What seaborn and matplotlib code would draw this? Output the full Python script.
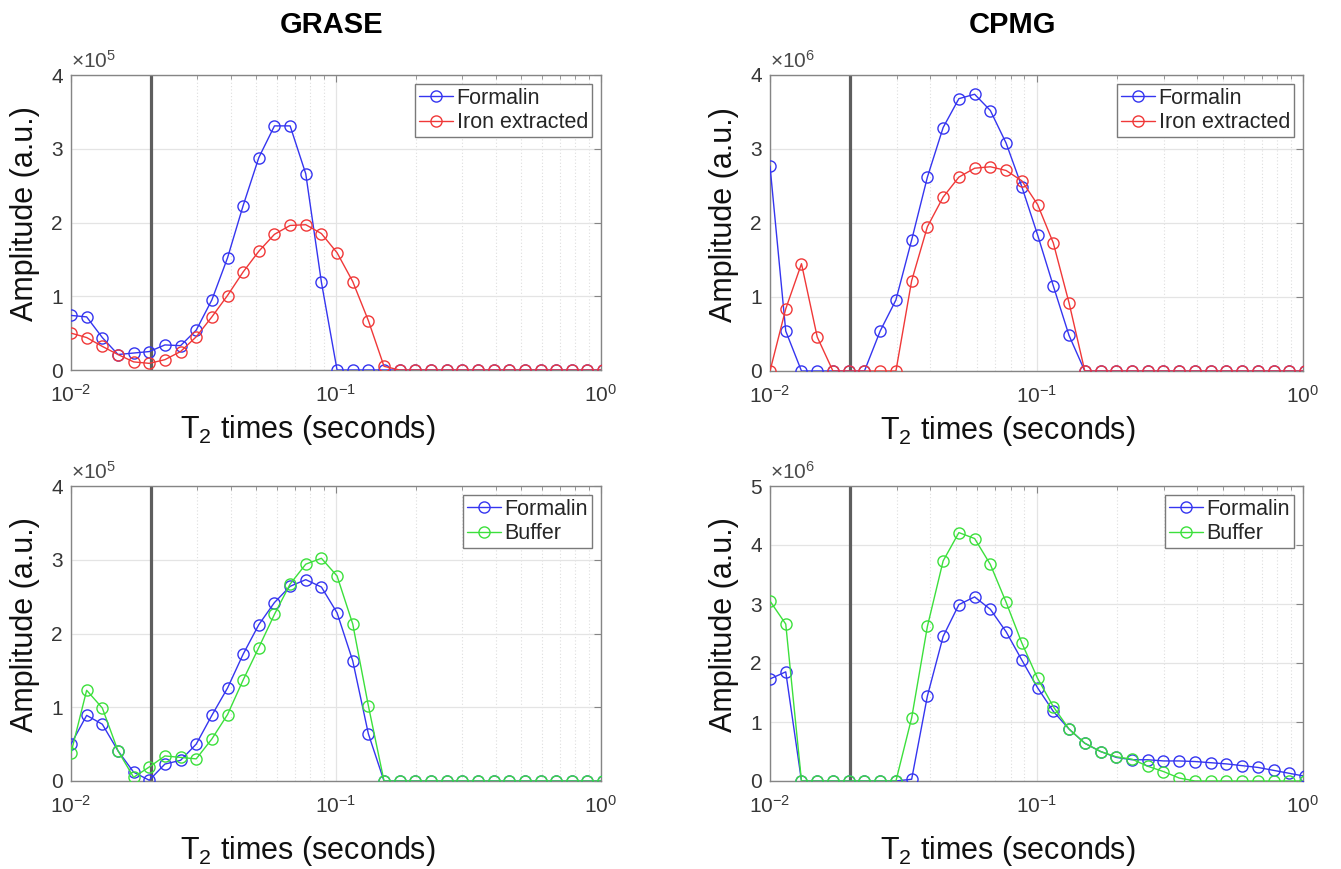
import numpy as np
import pandas as pd
import matplotlib
matplotlib.use("Agg")
import matplotlib.pyplot as plt
import seaborn as sns
from matplotlib.ticker import LogLocator, NullFormatter, FixedLocator, FormatStrFormatter

# ---------------- data ----------------
# T2 grid (seconds), log-spaced
t2_times = [0.010000, 0.011457, 0.013126, 0.015038, 0.017228, 0.019738, 0.022613,
            0.025907, 0.029681, 0.034005, 0.038958, 0.044633, 0.051135, 0.058584,
            0.067118, 0.076895, 0.088096, 0.100929, 0.115631, 0.132475, 0.151772,
            0.173881, 0.199210, 0.228229, 0.261475, 0.299564, 0.343201, 0.393195,
            0.450471, 0.516090, 0.591268, 0.677398, 0.776074, 0.889124, 1.018643]

# GRASE, top (x1e5)
grase_top_formalin = [0.74, 0.72, 0.44, 0.21, 0.23, 0.25, 0.34, 0.33, 0.54, 0.95,
                      1.52, 2.23, 2.88, 3.31, 3.31, 2.66, 1.19, 0, 0, 0,
                      0, 0, 0, 0, 0, 0, 0, 0, 0, 0, 0, 0, 0, 0, 0]
grase_top_iron = [0.50, 0.44, 0.32, 0.21, 0.11, 0.09, 0.14, 0.25, 0.45, 0.72,
                  1.01, 1.33, 1.61, 1.84, 1.96, 1.97, 1.85, 1.59, 1.20, 0.67,
                  0.05, 0, 0, 0, 0, 0, 0, 0, 0, 0, 0, 0, 0, 0, 0]

# CPMG, top (x1e6)
cpmg_top_formalin = [2.77, 0.54, 0, 0, 0, 0, 0, 0.54, 0.96, 1.77,
                     2.62, 3.29, 3.68, 3.74, 3.52, 3.08, 2.49, 1.84, 1.15, 0.48,
                     0, 0, 0, 0, 0, 0, 0, 0, 0, 0, 0, 0, 0, 0, 0]
cpmg_top_iron = [0, 0.84, 1.45, 0.46, 0, 0, 0, 0, 0, 1.22,
                 1.95, 2.35, 2.62, 2.74, 2.76, 2.71, 2.57, 2.25, 1.73, 0.92,
                 0, 0, 0, 0, 0, 0, 0, 0, 0, 0, 0, 0, 0, 0, 0]

# GRASE, bottom (x1e5)
grase_bot_formalin = [0.50, 0.89, 0.77, 0.41, 0.12, 0.01, 0.23, 0.28, 0.50, 0.89,
                      1.26, 1.72, 2.12, 2.42, 2.64, 2.73, 2.63, 2.28, 1.63, 0.64,
                      0, 0, 0, 0, 0, 0, 0, 0, 0, 0, 0, 0, 0, 0, 0]
grase_bot_buffer = [0.38, 1.23, 0.99, 0.41, 0.05, 0.19, 0.34, 0.32, 0.30, 0.57,
                    0.90, 1.37, 1.81, 2.26, 2.67, 2.94, 3.02, 2.78, 2.13, 1.02,
                    0, 0, 0, 0, 0, 0, 0, 0, 0, 0, 0, 0, 0, 0, 0]

# CPMG, bottom (x1e6)
cpmg_bot_formalin = [1.73, 1.85, 0, 0, 0, 0, 0, 0, 0, 0.03,
                     1.44, 2.45, 2.99, 3.12, 2.91, 2.53, 2.05, 1.58, 1.18, 0.88,
                     0.64, 0.50, 0.40, 0.36, 0.36, 0.34, 0.34, 0.33, 0.31, 0.29,
                     0.26, 0.23, 0.18, 0.13, 0.08]
cpmg_bot_buffer = [3.05, 2.66, 0, 0, 0, 0, 0, 0, 0, 1.07,
                   2.62, 3.73, 4.21, 4.11, 3.67, 3.03, 2.34, 1.74, 1.26, 0.88,
                   0.64, 0.50, 0.41, 0.37, 0.25, 0.16, 0.05, 0, 0, 0,
                   0, 0, 0, 0, 0]

col_titles = ["GRASE", "CPMG"]
xlabel_text = "T$_2$ times (seconds)"
ylabel_text = "Amplitude (a.u.)"

BLUE = "#3535f0"
RED = "#f03838"
GREEN = "#3ce03c"

# ---------------- style ----------------
sns.set_theme(style="white")
plt.rcParams["font.family"] = ["Liberation Sans", "DejaVu Sans"]
plt.rcParams["mathtext.fontset"] = "custom"
plt.rcParams["mathtext.rm"] = "Liberation Sans"
plt.rcParams["mathtext.it"] = "Liberation Sans:italic"
plt.rcParams["mathtext.bf"] = "Liberation Sans:bold"
plt.rcParams["mathtext.default"] = "regular"

fig = plt.figure(figsize=(13.41, 8.69), dpi=100)

W, H = 1341.0, 869.0
def add_axes(left_px, top_px, right_px, bottom_px):
    return fig.add_axes([left_px / W, 1 - bottom_px / H,
                         (right_px - left_px) / W, (bottom_px - top_px) / H])

ax_tl = add_axes(71, 75, 601, 370)
ax_tr = add_axes(770, 75, 1303, 371)
ax_bl = add_axes(71, 486, 601, 781)
ax_br = add_axes(770, 486, 1303, 781)

SPINE = "#858585"
TICKLBL = "#363636"

def draw_panel(ax, series, ymax, exponent, xlab_y):
    for name, vals, color in series:
        df = pd.DataFrame({"T2": t2_times, "amp": vals})
        sns.lineplot(data=df, x="T2", y="amp", ax=ax, color=color,
                     marker="o", markersize=8, markerfacecolor="none",
                     markeredgecolor=color, markeredgewidth=1.0,
                     linewidth=1.0, label=name, estimator=None, sort=False,
                     zorder=3)
    ax.set_xscale("log")
    ax.set_xlim(0.01, 1)
    ax.set_ylim(0, ymax)
    ax.axvline(0.02, color="#5e5e5e", lw=2.3, zorder=2.5)

    ax.xaxis.set_major_locator(LogLocator(base=10, numticks=10))
    ax.xaxis.set_minor_locator(LogLocator(base=10, subs=np.arange(2, 10), numticks=20))
    ax.xaxis.set_minor_formatter(NullFormatter())
    ax.yaxis.set_major_locator(FixedLocator(list(range(0, ymax + 1))))
    ax.yaxis.set_major_formatter(FormatStrFormatter("%d"))

    ax.set_axisbelow(True)
    ax.grid(True, which="major", axis="both", color="#e4e4e4", lw=0.9, ls="-")
    ax.grid(True, which="minor", axis="x", color="#dedede", lw=0.8, ls=(0, (1, 2)))

    for sp in ax.spines.values():
        sp.set_color(SPINE)
        sp.set_linewidth(1.0)
        sp.set_visible(True)
    ax.tick_params(which="both", direction="in", top=True, right=True,
                   color=SPINE, labelcolor=TICKLBL, labelsize=15)
    ax.tick_params(which="major", length=5, width=0.8)
    ax.tick_params(which="minor", length=3, width=0.6)
    ax.tick_params(axis="x", which="major", pad=10)
    ax.tick_params(axis="y", which="major", pad=6)

    ax.set_xlabel(xlabel_text, fontsize=22, color="#111111")
    ax.set_ylabel(ylabel_text, fontsize=22, color="#111111")
    ax.xaxis.set_label_coords(0.447, xlab_y)
    ax.yaxis.set_label_coords(-0.058, 0.53)

    ax.text(0.0, 1.012, "×10$^{%d}$" % exponent, transform=ax.transAxes,
            ha="left", va="bottom", fontsize=15, color="#4a4a4a")

    leg = ax.legend(loc="upper right", fontsize=15.5, frameon=True, fancybox=False,
                    edgecolor="#7a7a7a", framealpha=1, borderpad=0.2,
                    handlelength=1.6, handletextpad=0.15, labelspacing=0.15,
                    borderaxespad=0.4)
    leg.get_frame().set_linewidth(1.0)

draw_panel(ax_tl, [("Formalin", grase_top_formalin, BLUE),
                   ("Iron extracted", grase_top_iron, RED)], 4, 5, -0.145)
draw_panel(ax_tr, [("Formalin", cpmg_top_formalin, BLUE),
                   ("Iron extracted", cpmg_top_iron, RED)], 4, 6, -0.145)
draw_panel(ax_bl, [("Formalin", grase_bot_formalin, BLUE),
                   ("Buffer", grase_bot_buffer, GREEN)], 4, 5, -0.18)
draw_panel(ax_br, [("Formalin", cpmg_bot_formalin, BLUE),
                   ("Buffer", cpmg_bot_buffer, GREEN)], 5, 6, -0.18)

fig.text(332 / W, 1 - 25 / H, col_titles[0], ha="center", va="center",
         fontsize=21, fontweight="bold", color="#000000")
fig.text(1012 / W, 1 - 25 / H, col_titles[1], ha="center", va="center",
         fontsize=21, fontweight="bold", color="#000000")

fig.savefig("out.png", dpi=100)
